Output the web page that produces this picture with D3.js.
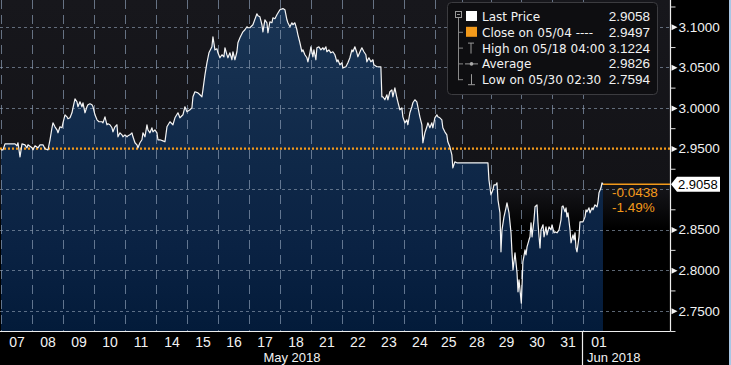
<!DOCTYPE html>
<html><head><meta charset="utf-8">
<script src="https://cdn.jsdelivr.net/npm/d3@7"></script>
<style>html,body{margin:0;padding:0;background:#000;overflow:hidden}</style>
</head><body><svg id="c" width="731" height="365"></svg>
<script>
// ---------- data ----------
const dayLabels = ['07','08','09','10','11','14','15','16','17','18','21','22','23','24','25','28','29','30','31','01'];
// relative length of each trading session (25 May early close, 28 May holiday)
const sessionLength = [1,1,1,1,1,1,1,1,1,1,1,1,1,1,0.87,0.94,0.97,1,1,1];
const monthNames = ['May 2018','Jun 2018'];
const monthFirstDay = [0,19];
// time in trading-day units (day index + fraction of session)
const priceTimes = [
0,.065,.129,.290,.452,.516,.548,.613,.677,.774,.839,.871,
1.000,1.032,1.097,1.194,1.258,1.355,1.419,1.516,1.581,1.645,1.677,1.742,1.806,1.839,1.903,1.968,
2.000,2.065,2.129,2.161,2.226,2.290,2.323,2.387,2.452,2.484,2.548,2.613,2.645,2.710,2.774,2.806,2.871,2.935,2.968,
3.032,3.097,3.161,3.258,3.290,3.355,3.419,3.452,3.516,3.581,3.613,3.677,3.742,3.774,3.839,3.903,
3.935,4.000,4.065,4.097,4.161,4.226,4.258,4.323,4.387,4.419,4.484,4.548,4.581,4.645,4.710,4.742,4.806,4.871,4.903,4.968,
5.032,5.065,5.129,5.226,5.290,5.355,5.452,5.548,5.613,5.710,5.774,5.871,5.935,6.000,
6.097,6.161,6.194,6.258,6.355,6.419,6.484,6.516,6.581,6.645,6.710,6.806,6.839,6.903,6.968,
7.000,7.065,7.129,7.194,7.226,7.290,7.323,7.387,7.452,7.484,7.548,7.613,7.645,7.710,7.806,7.871,7.935,7.968,
8.032,8.129,8.258,8.290,8.355,8.419,8.452,8.516,8.581,8.613,8.677,8.742,8.774,8.839,8.903,
9.000,9.097,9.161,9.226,9.258,9.323,9.387,9.419,9.484,9.548,9.581,9.645,9.710,9.742,9.806,9.871,9.903,9.968,
10.000,10.065,10.097,10.161,10.194,10.258,10.323,10.387,10.419,10.484,10.516,10.581,10.645,10.710,10.774,10.839,10.871,10.935,
11.000,11.032,11.129,11.194,11.258,11.323,11.355,11.419,11.484,11.516,11.613,11.645,11.710,11.774,11.806,11.871,11.935,12.000,
12.032,12.129,12.226,12.258,12.290,12.323,12.387,12.452,12.484,12.548,12.613,12.645,12.710,12.774,12.806,12.871,12.935,12.968,
13.032,13.097,13.129,13.194,13.258,13.290,13.355,13.419,13.452,13.516,13.581,13.613,13.677,13.742,13.774,13.839,13.903,13.935,
14.000,14.074,14.111,14.185,14.259,14.296,14.370,14.444,14.481,14.556,14.630,14.667,14.741,14.815,14.926,
15.000,15.897,15.931,
16.000,16.067,16.100,16.167,16.200,16.233,16.300,16.333,16.367,16.433,16.500,16.533,16.600,16.667,16.700,16.733,16.800,16.867,16.900,16.933,
17.010,17.040,17.060,17.090,17.129,17.161,17.194,17.258,17.290,17.323,17.355,17.419,17.452,17.516,17.548,17.581,17.613,17.645,17.710,17.742,17.806,17.839,17.903,17.968,
18.000,18.065,18.097,18.161,18.226,18.290,18.323,18.355,18.419,18.452,18.484,18.516,18.581,18.613,18.677,18.710,18.742,18.774,18.806,18.871,18.903,18.968,
19.000,19.065,19.097,19.129,19.194,19.226,19.290,19.323,19.387,19.452,19.484,19.516,19.581,19.613,19.645
];
const priceValues = [
2.9483,2.9483,2.9557,2.9557,2.9557,2.9533,2.9570,2.9397,2.9557,2.9545,2.9508,2.9545,
2.9508,2.9483,2.9533,2.9508,2.9545,2.9545,2.9496,2.9483,2.9607,2.9755,2.9816,2.9767,2.9730,2.9693,2.9767,2.9755,
2.9816,2.9915,2.9890,2.9866,2.9878,2.9940,3.0001,3.0112,3.0075,3.0014,3.0075,3.0014,3.0063,2.9940,3.0014,3.0038,3.0051,3.0038,3.0014,
2.9915,2.9853,2.9829,2.9829,2.9816,2.9890,2.9792,2.9804,2.9792,2.9755,2.9705,2.9767,2.9792,2.9644,2.9693,2.9668,
2.9644,2.9668,2.9644,2.9656,2.9668,2.9693,2.9644,2.9570,2.9545,2.9508,2.9570,2.9607,2.9693,2.9644,2.9792,2.9730,2.9693,2.9755,2.9705,2.9730,
2.9693,2.9607,2.9607,2.9594,2.9582,2.9767,2.9829,2.9792,2.9878,2.9940,2.9878,2.9915,3.0014,2.9952,
2.9977,3.0001,3.0137,3.0199,3.0186,3.0162,3.0137,3.0223,3.0408,3.0556,3.0679,3.0753,3.0877,3.0716,3.0729,
3.0679,3.0618,3.0655,3.0630,3.0741,3.0655,3.0618,3.0679,3.0593,3.0692,3.0593,3.0692,3.0803,3.0864,3.0938,3.0963,3.1000,3.0988,
3.0988,3.1025,3.1160,3.1136,3.1123,3.1025,3.0938,3.1086,3.1049,3.0926,3.1062,3.1049,3.1111,3.1099,3.1148,
3.1210,3.1224,3.1210,3.1086,3.1049,3.1000,3.1049,3.1025,3.1049,3.0963,3.0901,3.0803,3.0692,3.0716,3.0655,3.0618,3.0568,3.0679,
3.0753,3.0630,3.0716,3.0593,3.0741,3.0753,3.0716,3.0741,3.0716,3.0753,3.0692,3.0716,3.0679,3.0692,3.0655,3.0568,3.0593,3.0531,
3.0556,3.0494,3.0507,3.0556,3.0618,3.0716,3.0692,3.0753,3.0679,3.0630,3.0716,3.0741,3.0692,3.0655,3.0568,3.0618,3.0568,3.0593,
3.0531,3.0507,3.0507,3.0507,3.0137,3.0137,3.0100,3.0162,3.0100,3.0199,3.0223,3.0137,3.0248,3.0125,3.0075,2.9977,3.0001,2.9890,
2.9816,2.9853,2.9792,2.9940,3.0014,3.0063,3.0100,3.0075,3.0014,2.9890,2.9792,2.9570,2.9693,2.9767,2.9816,2.9755,2.9816,2.9755,
2.9878,2.9915,2.9890,2.9878,2.9853,2.9755,2.9705,2.9668,2.9582,2.9520,2.9422,2.9261,2.9335,2.9323,2.9323,
2.9323,2.9323,2.9113,
2.8929,2.8990,2.9052,2.9052,2.9077,2.8867,2.8707,2.8226,2.8497,2.8657,2.8768,2.8830,2.8707,2.8460,2.8213,2.8004,2.8213,2.7967,2.7733,2.7880,
2.7594,2.7880,2.8102,2.8164,2.8250,2.8189,2.8287,2.8374,2.8411,2.8583,2.8411,2.8620,2.8781,2.8805,2.8583,2.8411,2.8275,2.8497,2.8559,2.8411,2.8534,2.8435,2.8534,2.8497,
2.8559,2.8460,2.8472,2.8460,2.8497,2.8620,2.8781,2.8793,2.8719,2.8768,2.8657,2.8707,2.8497,2.8337,2.8435,2.8374,2.8460,2.8275,2.8226,2.8411,2.8596,2.8596,
2.8596,2.8657,2.8744,2.8719,2.8768,2.8707,2.8768,2.8744,2.8805,2.8781,2.8842,2.8953,2.9015,2.9077,2.9058
];
const closeRef = 2.9497;
const lastPrice = 2.9058;
const changeLabels = ['-0.0438','-1.49%'];
const legendLabels = ['Last Price','Close on 05/04 ----','High on 05/18 04:00','Average','Low on 05/30 02:30'];
const legendValues = ['2.9058','2.9497','3.1224','2.9826','2.7594'];
const yMajor = [2.75,2.80,2.85,2.90,2.95,3.00,3.05,3.10];
const yMinor = [2.725,2.775,2.825,2.875,2.925,2.975,3.025,3.075,3.125];

// ---------- layout ----------
const W = 731, H = 365, plotR = 670, plotB = 331;
const FONT = "'Liberation Sans', Arial, sans-serif";
const FONT2 = "'DejaVu Sans', sans-serif";
const ORANGE = '#f39a1b';

const cum = [0];
sessionLength.forEach((l,i)=>cum.push(cum[i]+l));
const xs = d3.scaleLinear().domain(d3.range(cum.length)).range(cum);
const xc = d3.scaleLinear().domain([0, cum[19]]).range([1, 583]);
const x = t => xc(xs(t));
const y = d3.scaleLinear().domain([2.725, 3.133]).range([plotB, 0]);

const data = priceTimes.map((t,i)=>({t, v: priceValues[i]}));

const svg = d3.select('#c');
const defs = svg.append('defs');
const bg = defs.append('linearGradient').attr('id','bg').attr('gradientUnits','userSpaceOnUse')
  .attr('x1',0).attr('y1',0).attr('x2',0).attr('y2',plotB);
[[0,'#17171c'],[0.58,'#131317'],[0.63,'#0b0b0d'],[0.69,'#000']].forEach(([o,c])=>bg.append('stop').attr('offset',o).attr('stop-color',c));
const fg = defs.append('linearGradient').attr('id','fg').attr('gradientUnits','userSpaceOnUse')
  .attr('x1',0).attr('y1',0).attr('x2',0).attr('y2',plotB);
[[0,'#1a3555'],[0.5,'#0f2848'],[0.75,'#0a2243'],[1,'#031b3a']].forEach(([o,c])=>fg.append('stop').attr('offset',o).attr('stop-color',c));

svg.append('rect').attr('width',W).attr('height',H).attr('fill','#000');
svg.append('rect').attr('x',729).attr('y',0).attr('width',2).attr('height',H).attr('fill','#a9c6e4');
svg.append('rect').attr('x',0).attr('y',0).attr('width',plotR).attr('height',plotB).attr('fill','url(#bg)');

// area
svg.append('path').datum(data)
  .attr('d', d3.area().x(d=>x(d.t)).y0(plotB).y1(d=>y(d.v)))
  .attr('fill','url(#fg)');

// grid
const grid = svg.append('g');
grid.selectAll('line.v').data(d3.range(20)).join('line')
  .attr('x1',k=>Math.round(x(k))+0.5).attr('x2',k=>Math.round(x(k))+0.5)
  .attr('y1',0).attr('y2',plotB)
  .attr('stroke','rgba(140,158,182,0.68)').attr('stroke-width',1).attr('stroke-dasharray','9,6');
grid.selectAll('line.h').data(yMajor.filter(v=>v!==2.95)).join('line')
  .attr('x1',0).attr('x2',plotR)
  .attr('y1',v=>Math.round(y(v))+0.5).attr('y2',v=>Math.round(y(v))+0.5)
  .attr('stroke','rgba(140,155,175,0.65)').attr('stroke-width',1).attr('stroke-dasharray','3,3');

// close reference line
svg.append('line').attr('x1',0).attr('x2',plotR).attr('y1',y(closeRef)).attr('y2',y(closeRef))
  .attr('stroke',ORANGE).attr('stroke-width',2.2).attr('stroke-dasharray','2,2');

// price line
svg.append('path').datum(data)
  .attr('d', d3.line().x(d=>x(d.t)).y(d=>y(d.v)))
  .attr('fill','none').attr('stroke','#f4f4f4').attr('stroke-width',1.2).attr('stroke-linejoin','round');

// last price line & change labels
const lastT = priceTimes[priceTimes.length-1];
svg.append('line').attr('x1',x(lastT)).attr('x2',plotR).attr('y1',y(lastPrice)).attr('y2',y(lastPrice))
  .attr('stroke',ORANGE).attr('stroke-width',1.5);
svg.selectAll('text.chg').data(changeLabels).join('text')
  .attr('x',x(lastT)+9).attr('y',(d,i)=>y(lastPrice)+12.5+i*15.5)
  .attr('fill',ORANGE).attr('font-family',FONT).attr('font-size',13.5).text(d=>d);

// axes frame
svg.append('line').attr('x1',0).attr('x2',plotR+0.5).attr('y1',plotB+0.5).attr('y2',plotB+0.5).attr('stroke','#eee').attr('stroke-width',1.2);
svg.append('line').attr('x1',plotR+0.5).attr('x2',plotR+0.5).attr('y1',0).attr('y2',plotB+0.5).attr('stroke','#eee').attr('stroke-width',1.2);

// right axis: minor ticks
const minorAx = svg.append('g').attr('transform',`translate(${plotR+0.5},0)`)
  .call(d3.axisRight(y).tickValues(yMinor).tickSize(5).tickFormat(''));
minorAx.select('.domain').remove();
minorAx.selectAll('line').attr('stroke','#ddd');
// right axis: major labels
const majorVals = yMajor.filter(v=>v!==2.90);
const majorAx = svg.append('g').attr('transform',`translate(${plotR+0.5},0)`)
  .call(d3.axisRight(y).tickValues(majorVals).tickSize(0).tickPadding(8).tickFormat(d3.format('.4f')));
majorAx.select('.domain').remove();
majorAx.selectAll('text').attr('fill','#f2f2f2').attr('font-family',FONT).attr('font-size',13.5);
majorAx.selectAll('.tick').append('path').attr('d','M1,-3L7,0L1,3Z').attr('fill','#f2f2f2');

// current price flag
const yl = y(lastPrice);
svg.append('path').attr('d',`M${plotR+1},${yl}L${plotR+7},${yl-7.5}L${plotR+50},${yl-7.5}L${plotR+50},${yl+7.5}L${plotR+7},${yl+7.5}Z`).attr('fill','#fff');
svg.append('text').attr('x',plotR+8).attr('y',yl).attr('dy','0.36em').attr('fill','#000')
  .attr('font-family',FONT).attr('font-size',13).text(d3.format('.4f')(lastPrice));

// bottom axis
const centers = d3.range(20).map(k=>xs(k+0.5));
const bAx = svg.append('g').attr('transform',`translate(0,${plotB})`)
  .call(d3.axisBottom(xc).tickValues(centers).tickSize(0).tickPadding(6).tickFormat((d,i)=>dayLabels[i]));
bAx.select('.domain').remove();
bAx.selectAll('text').attr('fill','#f2f2f2').attr('font-family',FONT).attr('font-size',14);
// month labels
svg.append('text').attr('x',(x(monthFirstDay[0])+x(monthFirstDay[1]))/2).attr('y',362)
  .attr('text-anchor','middle').attr('fill','#f2f2f2').attr('font-family',FONT).attr('font-size',13).text(monthNames[0]);
svg.append('text').attr('x',x(monthFirstDay[1])+4).attr('y',362)
  .attr('fill','#f2f2f2').attr('font-family',FONT).attr('font-size',13).text(monthNames[1]);
svg.append('line').attr('x1',Math.round(x(monthFirstDay[1]))-0.5).attr('x2',Math.round(x(monthFirstDay[1]))-0.5)
  .attr('y1',plotB).attr('y2',H).attr('stroke','#eee').attr('stroke-width',1.2);

// legend
const lg = svg.append('g');
lg.append('rect').attr('x',447.5).attr('y',2.5).attr('width',210).attr('height',92).attr('rx',4)
  .attr('fill','#0e0e11').attr('stroke','#3c3c40');
const rowY = i => 21 + i*15.8;
lg.append('rect').attr('x',455.5).attr('y',11.5).attr('width',6).attr('height',6).attr('fill','none').attr('stroke','#999');
lg.append('line').attr('x1',457).attr('x2',460).attr('y1',14.5).attr('y2',14.5).attr('stroke','#999');
lg.append('line').attr('x1',458.5).attr('x2',458.5).attr('y1',18).attr('y2',rowY(4)-4).attr('stroke','#888');
[1,2,3,4].forEach(i=>lg.append('line').attr('x1',458.5).attr('x2',463).attr('y1',rowY(i)-4.5).attr('y2',rowY(i)-4.5).attr('stroke','#888'));
lg.append('rect').attr('x',466).attr('y',rowY(0)-10).attr('width',11).attr('height',10).attr('fill','#fff');
lg.append('rect').attr('x',466).attr('y',rowY(1)-10).attr('width',11).attr('height',10).attr('fill',ORANGE);
lg.append('path').attr('d',`M468,${rowY(2)-9.5}H474M471,${rowY(2)-9.5}V${rowY(2)+1}`).attr('stroke','#999').attr('fill','none');
lg.append('path').attr('d',`M465,${rowY(3)-4.5}H478`).attr('stroke','#999');
lg.append('circle').attr('cx',471.5).attr('cy',rowY(3)-4.5).attr('r',1.8).attr('fill','#aaa');
lg.append('path').attr('d',`M468,${rowY(4)+0.5}H475M471.5,${rowY(4)+0.5}V${rowY(4)-10}`).attr('stroke','#999').attr('fill','none');
lg.selectAll('text.l').data(legendLabels).join('text')
  .attr('x',482).attr('y',(d,i)=>rowY(i)).attr('fill','#f2f2f2')
  .attr('font-family',FONT2).attr('font-size',12).text(d=>d);
lg.selectAll('text.v').data(legendValues).join('text')
  .attr('x',650).attr('y',(d,i)=>rowY(i)).attr('text-anchor','end').attr('fill','#f2f2f2')
  .attr('font-family',FONT).attr('font-size',13.5).text(d=>d);
</script></body></html>
